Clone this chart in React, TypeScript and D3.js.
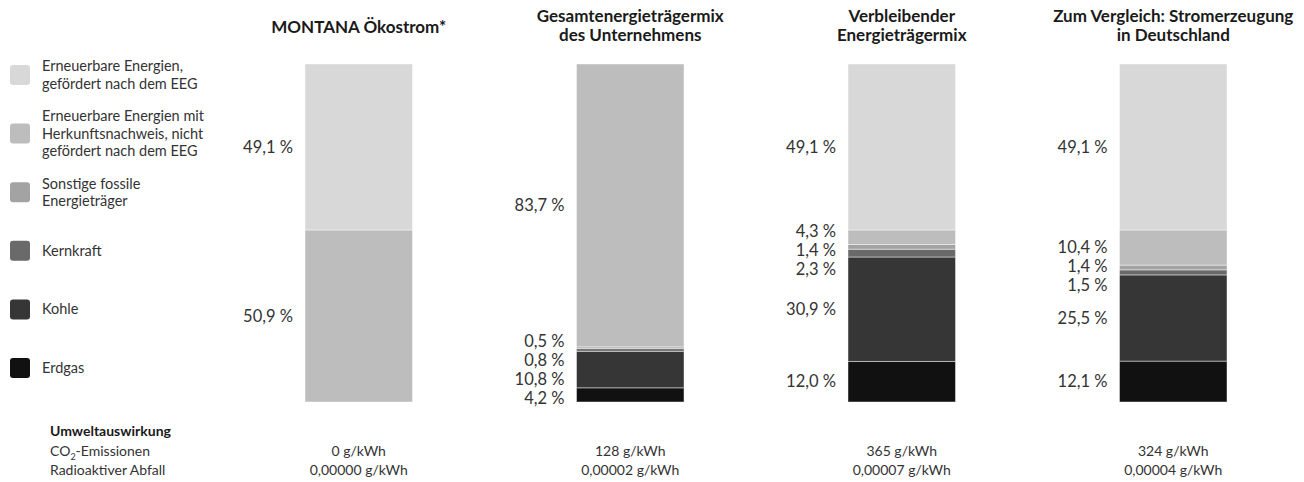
import React, { useEffect } from 'react';
import * as d3 from 'd3';

// energy sources, top of the bar first
const sources = ['eeg', 'hkn', 'fossil', 'kern', 'kohle', 'erdgas'];
const sourceLabels = [
  ['Erneuerbare Energien,', 'gefördert nach dem EEG'],
  ['Erneuerbare Energien mit', 'Herkunftsnachweis, nicht', 'gefördert nach dem EEG'],
  ['Sonstige fossile', 'Energieträger'],
  ['Kernkraft'],
  ['Kohle'],
  ['Erdgas'],
];
const sourceColors = ['#d8d8d8', '#bdbdbd', '#a3a3a3', '#6a6a6a', '#363636', '#111111'];

// columns
const columns = ['montana', 'gesamt', 'verbleibend', 'deutschland'];
const columnTitles = [
  ['MONTANA Ökostrom*'],
  ['Gesamtenergieträgermix', 'des Unternehmens'],
  ['Verbleibender', 'Energieträgermix'],
  ['Zum Vergleich: Stromerzeugung', 'in Deutschland'],
];

// shares in percent, same order as sources
const montana = [49.1, 50.9, 0, 0, 0, 0];
const gesamt = [0, 83.7, 0.5, 0.8, 10.8, 4.2];
const verbleibend = [49.1, 4.3, 1.4, 2.3, 30.9, 12.0];
const deutschland = [49.1, 10.4, 1.4, 1.5, 25.5, 12.1];

// environmental impact
const co2 = ['0 g/kWh', '128 g/kWh', '365 g/kWh', '324 g/kWh'];
const waste = ['0,00000 g/kWh', '0,00002 g/kWh', '0,00007 g/kWh', '0,00004 g/kWh'];

const width = 1304;
const height = 482;
const font = 'Lato, "Open Sans", sans-serif';
const textColor = '#333';

const fmt = (v: number) => `${v.toFixed(1).replace('.', ',')} %`;

// spread labels apart so they don't overlap, keeping clusters centred
function spreadLabels(ys: number[], gap: number): number[] {
  let groups = ys.map((y) => ({ ys: [y], center: y }));
  let changed = true;
  while (changed) {
    changed = false;
    for (let i = 1; i < groups.length; i++) {
      const a = groups[i - 1];
      const b = groups[i];
      const aBottom = a.center + ((a.ys.length - 1) * gap) / 2;
      const bTop = b.center - ((b.ys.length - 1) * gap) / 2;
      if (bTop - aBottom < gap) {
        const all = a.ys.concat(b.ys);
        groups.splice(i - 1, 2, { ys: all, center: d3.mean(all) as number });
        changed = true;
        break;
      }
    }
  }
  const out: number[] = [];
  groups.forEach((g) => {
    // crowded clusters sit a little lower, like in the original
    const shift = g.ys.length > 1 ? 4 : 0;
    const start = g.center + shift - ((g.ys.length - 1) * gap) / 2;
    g.ys.forEach((_, i) => out.push(start + i * gap));
  });
  // final sweep so nothing overlaps after the shift
  for (let i = 1; i < out.length; i++) {
    out[i] = Math.max(out[i], out[i - 1] + gap);
  }
  return out;
}

const App: React.FC = () => {
  useEffect(() => {
    document.body.style.margin = '0';
  }, []);

  const table = [montana, gesamt, verbleibend, deutschland].map((vals, i) => {
    const row: Record<string, number | string> = { col: columns[i] };
    sources.forEach((s, j) => (row[s] = vals[j]));
    return row;
  });

  // stack from the bottom (Erdgas) up
  const stack = d3.stack<Record<string, number | string>>().keys([...sources].reverse());
  const series = stack(table as any);

  const x = d3
    .scaleBand<string>()
    .domain(columns)
    .range([305, 1227])
    .paddingInner(0.604)
    .paddingOuter(0);
  const y = d3.scaleLinear().domain([0, 100]).range([402, 64]);
  const legendY = d3.scalePoint<string>().domain(sources).range([75, 368]);
  const color = d3.scaleOrdinal<string, string>().domain(sources).range(sourceColors);

  const bw = x.bandwidth();

  return (
    <svg width={width} height={height} style={{ display: 'block', fontFamily: font }}>
      <rect width={width} height={height} fill="#fff" />

      {/* legend */}
      <g>
        {sources.map((s, i) => {
          const cy = legendY(s) as number;
          const lines = sourceLabels[i];
          const lh = 17.5;
          return (
            <g key={s}>
              <rect x={10} y={cy - 10} width={20} height={20} rx={3} fill={color(s)} />
              {lines.map((l, k) => (
                <text
                  key={k}
                  x={42}
                  y={cy + (k - (lines.length - 1) / 2) * lh}
                  dy="0.35em"
                  fontSize={14.5}
                  fill={textColor}
                >
                  {l}
                </text>
              ))}
            </g>
          );
        })}
      </g>

      {/* titles */}
      {columns.map((c, i) => {
        const lines = columnTitles[i];
        const cx = (x(c) as number) + bw / 2;
        return (
          <text key={c} textAnchor="middle" fontSize={17} fontWeight="bold" fill="#1a1a1a">
            {lines.map((l, k) => (
              <tspan key={k} x={cx} y={lines.length === 1 ? 33 : 22 + k * 19}>
                {l}
              </tspan>
            ))}
          </text>
        );
      })}

      {/* stacked bars */}
      {series.map((ser) => (
        <g key={ser.key} fill={color(ser.key)}>
          {ser.map((d) =>
            d[1] - d[0] > 0 ? (
              <rect
                key={String(d.data.col)}
                x={x(String(d.data.col))}
                y={y(d[1])}
                width={bw}
                height={y(d[0]) - y(d[1])}
                stroke="#ffffff"
                strokeOpacity={0.45}
                strokeWidth={1}
              />
            ) : null,
          )}
        </g>
      ))}

      {/* percent labels */}
      {columns.map((c, i) => {
        const segs = series
          .map((ser) => ser[i])
          .filter((d) => d[1] - d[0] > 0)
          .map((d) => ({ v: d[1] - d[0], mid: y((d[0] + d[1]) / 2) }))
          .sort((a, b) => a.mid - b.mid);
        const ys = spreadLabels(
          segs.map((d) => d.mid),
          19,
        );
        return (
          <g key={c}>
            {segs.map((d, k) => (
              <text
                key={k}
                x={(x(c) as number) - 12}
                y={ys[k]}
                dy="0.35em"
                textAnchor="end"
                fontSize={16.5}
                fill={textColor}
              >
                {fmt(d.v)}
              </text>
            ))}
          </g>
        );
      })}

      {/* environmental impact */}
      <g fontSize={14} fill={textColor}>
        <text x={50} y={431} dy="0.35em" fontWeight="bold" fill="#1a1a1a">
          Umweltauswirkung
        </text>
        <text x={50} y={451} dy="0.35em">
          CO
          <tspan fontSize={9} dy={4}>
            2
          </tspan>
          <tspan dy={-4}>-Emissionen</tspan>
        </text>
        <text x={50} y={470} dy="0.35em">
          Radioaktiver Abfall
        </text>
        {columns.map((c, i) => {
          const cx = (x(c) as number) + bw / 2;
          return (
            <g key={c} textAnchor="middle">
              <text x={cx} y={451} dy="0.35em">
                {co2[i]}
              </text>
              <text x={cx} y={470} dy="0.35em">
                {waste[i]}
              </text>
            </g>
          );
        })}
      </g>
    </svg>
  );
};

export default App;
